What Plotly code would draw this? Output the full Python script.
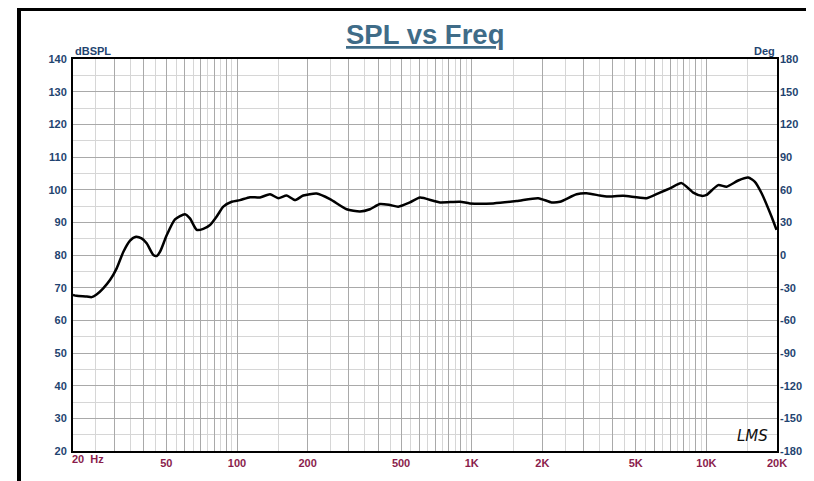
import plotly.graph_objects as go

# ---- data ----
freq_hz = [20, 20.7, 22.9, 24, 25.2, 26.9, 28.8, 30.7, 32.8, 35, 37.1, 39.2, 41.2, 44, 45.5, 47,
           50.2, 54.4, 60, 63, 67.3, 71.8, 76.7, 81.9, 87.4, 94.9, 102.9, 113.6, 125.3, 138.2,
           149.9, 162.8, 176.6, 191.5, 218.4, 248.9, 293.2, 334.2, 368.6, 406.5, 448.3, 486.5,
           545.7, 601.8, 685.8, 732.5, 891.3, 982.8, 1235, 1555, 1921, 2191, 2377, 2800, 3090,
           3519, 3759, 4424, 5565, 6340, 6994, 7845, 8791, 9547, 10025, 11233, 12199, 13670,
           15077, 16104, 17196, 18970, 19900]
spl_db = [67.8, 67.5, 67.3, 67.1, 67.9, 69.8, 72.4, 75.9, 81.0, 84.4, 85.6, 85.1, 83.6, 80.0, 79.7, 81.0,
          86.1, 90.9, 92.5, 91.2, 87.7, 88.0, 89.2, 91.8, 94.8, 96.3, 96.8, 97.7, 97.6, 98.6,
          97.4, 98.2, 96.8, 98.2, 98.8, 97.1, 94.0, 93.3, 94.0, 95.6, 95.3, 94.8,
          96.1, 97.6, 96.6, 96.1, 96.3, 95.8, 95.8, 96.5, 97.4, 96.1, 96.3, 98.6, 98.9,
          98.2, 97.9, 98.1, 97.4, 99.1, 100.4, 102.0, 99.1, 98.1, 98.4, 101.4, 100.9, 102.8,
          103.7, 102.4, 98.9, 91.7, 87.7]

x_label_vals = [50, 100, 200, 500, 1000, 2000, 5000, 10000, 20000]
x_label_text = ["50", "100", "200", "500", "1K", "2K", "5K", "10K", "20K"]
y_left_ticks = list(range(20, 141, 10))
y_right_ticks = list(range(-180, 181, 30))
y_right_text = [str(v) for v in y_right_ticks]

# ---- grid positions (log grid: integer multiples dark, half steps light) ----
major_x, minor_x = [], []
for dec in [10, 100, 1000]:
    for m in range(1, 11):
        v = m * dec
        if 20 < v <= 10000:
            major_x.append(v)
    for m in range(3, 20, 2):
        v = m * dec / 2
        if 20 < v < 20000:
            minor_x.append(v)
minor_x.append(15000)
major_x.append(20000)
minor_x = sorted(set(minor_x))
major_x = sorted(set(major_x))
tick_text = [x_label_text[x_label_vals.index(v)] if v in x_label_vals else "" for v in major_x]

# page body has an 8px margin, so the figure is placed at (8, 8)
OFF = 8
W, H = 814 - OFF, 481 - OFF
L, R, T, B = 73 - OFF, 777 - OFF, 59 - OFF, 451 - OFF
pw, ph = R - L, B - T

def px_x(px):  # reference-page pixel -> paper coordinate
    return (px - OFF - L) / pw

def px_y(py):
    return (B - (py - OFF)) / ph

FAM = "Liberation Sans Narrow, Liberation Sans, Arial"
label_font = dict(family=FAM, size=11, color="#1f4470", weight="bold")

fig = go.Figure()
fig.add_trace(go.Scatter(x=freq_hz, y=spl_db, mode="lines",
                         line=dict(color="black", width=2.5, shape="spline", smoothing=0.6),
                         hoverinfo="skip", showlegend=False))
fig.add_trace(go.Scatter(x=[20, 20000], y=[None, None], yaxis="y2", mode="lines",
                         showlegend=False, hoverinfo="skip"))

fig.update_layout(
    width=W, height=H,
    margin=dict(l=L, r=W - R, t=T, b=H - B, pad=0),
    paper_bgcolor="white", plot_bgcolor="white",
    showlegend=False,
    xaxis=dict(type="log", range=[1.30103, 4.30103], tickvals=major_x, ticktext=tick_text,
               showgrid=True, gridcolor="#a9a9a9", gridwidth=1,
               minor=dict(tickvals=minor_x, showgrid=True, gridcolor="#d6d6d6", gridwidth=1, ticks=""),
               ticks="", tickfont=dict(family=FAM, size=11, color="#8a1d4c", weight="bold"),
               showline=True, linecolor="black", linewidth=2, mirror=True, zeroline=False,
               ticklabelstandoff=1, automargin=False),
    yaxis=dict(range=[20, 140], tickvals=y_left_ticks, showgrid=True, gridcolor="#a9a9a9", gridwidth=1,
               minor=dict(dtick=5, showgrid=True, gridcolor="#d6d6d6", gridwidth=1, ticks=""),
               ticks="", tickfont=label_font, showline=True, linecolor="black", linewidth=2,
               mirror=True, zeroline=False, ticklabelstandoff=2, automargin=False),
    yaxis2=dict(range=[-180, 180], tickvals=y_right_ticks, ticktext=y_right_text,
                overlaying="y", side="right",
                showgrid=False, zeroline=False, ticks="", tickfont=label_font, showline=False,
                ticklabelstandoff=2, automargin=False),
)

fig.add_annotation(x=px_x(425), y=px_y(35), xref="paper", yref="paper",
                   text="<b><u>SPL vs Freq</u></b>", showarrow=False,
                   font=dict(family="Liberation Sans, Arial", size=27.5, color="#3f6c88"),
                   xanchor="center", yanchor="middle")
fig.add_annotation(x=0, y=px_y(51.5), xref="paper", yref="paper", text="<b>dBSPL</b>",
                   showarrow=False, xanchor="left", yanchor="middle",
                   font=dict(family=FAM, size=11, color="#1f4470"))
fig.add_annotation(x=1, y=px_y(51.5), xref="paper", yref="paper", text="<b>Deg</b>",
                   showarrow=False, xanchor="right", yanchor="middle",
                   font=dict(family=FAM, size=11, color="#1f4470"))
fig.add_annotation(x=px_x(70), y=px_y(459), xref="paper", yref="paper", text="<b>20  Hz</b>",
                   showarrow=False, xanchor="left", yanchor="middle",
                   font=dict(family=FAM, size=11, color="#8a1d4c"))
fig.add_annotation(x=px_x(752), y=px_y(436), xref="paper", yref="paper", text="<i>LMS</i>",
                   showarrow=False, xanchor="center", yanchor="middle",
                   font=dict(family="DejaVu Sans, Liberation Sans", size=15, color="#111111"))

# frame bars
fig.add_shape(type="line", xref="paper", yref="paper", x0=px_x(17), x1=px_x(814), y0=px_y(9), y1=px_y(9),
              line=dict(color="black", width=4))
fig.add_shape(type="line", xref="paper", yref="paper", x0=px_x(19), x1=px_x(19), y0=px_y(7), y1=px_y(481),
              line=dict(color="black", width=4))

fig.write_html("out.html")
